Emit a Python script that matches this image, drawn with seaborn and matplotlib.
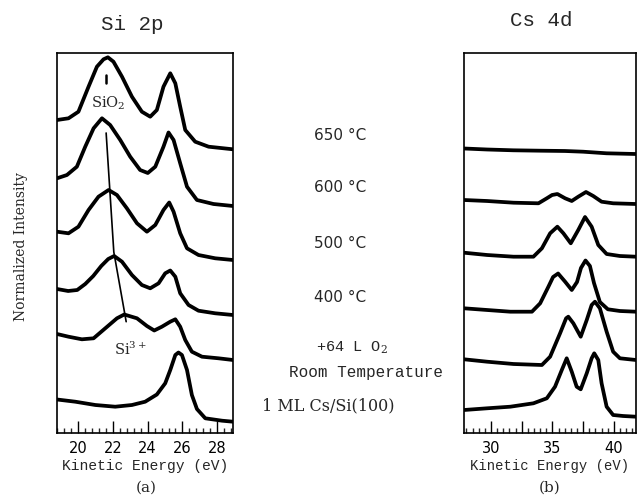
import numpy as np
import pandas as pd
import matplotlib
matplotlib.use("Agg")
import matplotlib.pyplot as plt
from matplotlib.ticker import MultipleLocator, FixedLocator
import seaborn as sns

# ---------------- data ----------------
# Si 2p panel: kinetic energy (eV) and normalized intensity (offset, arb. units)
si_labels = ["650 °C", "600 °C", "500 °C", "400 °C", "+64 L O2", "1 ML Cs/Si(100)"]

si_650_x = [18.80, 19.46, 20.03, 20.61, 21.09, 21.47, 21.72, 22.04, 22.53, 23.10, 23.67,
            24.15, 24.53, 24.91, 25.30, 25.59, 25.87, 26.16, 26.73, 27.50, 28.90]
si_650_y = [313, 314.7, 321.3, 346.3, 366.3, 373.7, 375.7, 371.3, 356.3, 336.3, 321.3,
            316.3, 323, 346.3, 359.7, 349.7, 326.3, 303, 291.3, 286.3, 283.7]

si_600_x = [18.80, 19.37, 19.94, 20.42, 20.90, 21.38, 21.85, 22.43, 23.00, 23.57, 24.01,
            24.44, 24.91, 25.20, 25.49, 25.87, 26.26, 26.83, 27.78, 28.90]
si_600_y = [254.7, 258, 266.3, 286.3, 304.7, 314.7, 308, 293, 276.3, 263, 260,
            266.3, 286.3, 300.5, 293, 269.7, 246.3, 233, 229, 227]

si_500_x = [18.80, 19.46, 20.03, 20.61, 21.18, 21.76, 22.24, 22.81, 23.39, 23.96, 24.44,
            24.91, 25.24, 25.49, 25.87, 26.26, 26.92, 27.88, 28.90]
si_500_y = [201.3, 199.7, 206.3, 223, 236.3, 243, 238, 224.7, 209.7, 201.3, 208,
            223, 230.5, 221.3, 199.7, 184.7, 178, 174.7, 173]

si_400_x = [18.80, 19.44, 19.96, 20.42, 20.88, 21.34, 21.74, 22.08, 22.53, 23.10, 23.67,
            24.15, 24.63, 25.01, 25.30, 25.59, 25.87, 26.35, 26.92, 27.88, 28.90]
si_400_y = [144, 142, 143, 149, 157, 167, 174, 177, 171.3, 158, 148,
            144.7, 149.7, 159.7, 162.5, 156.3, 139.7, 128, 122.3, 119.7, 118]

si_o2_x = [18.80, 19.46, 20.23, 20.90, 21.57, 22.24, 22.66, 23.39, 23.96, 24.38, 24.82,
           25.30, 25.59, 25.87, 26.16, 26.54, 27.12, 28.07, 28.90]
si_o2_y = [99, 96.3, 93.7, 94.7, 104.7, 114.7, 118.5, 114.7, 107, 102.5, 106.3,
           111.3, 113.7, 106.3, 93, 81.3, 76.3, 74.7, 73]

si_cs_x = [18.80, 19.85, 21.00, 22.14, 23.10, 23.86, 24.53, 25.01, 25.30, 25.59, 25.77,
           25.97, 26.26, 26.54, 26.83, 27.31, 28.27, 28.90]
si_cs_y = [33.5, 31.3, 28, 26.3, 28, 31.3, 38.5, 49.7, 63, 78, 80.5,
           78, 63, 38, 24, 14.7, 12.3, 11.3]

# Cs 4d panel
cs_650_x = [27.8, 29.68, 31.81, 34.00, 36.03, 37.49, 39.41, 41.8]
cs_650_y = [284.5, 283.5, 282.7, 282.3, 282, 281.3, 279.7, 279]

cs_600_x = [27.8, 29.68, 31.83, 33.86, 34.54, 34.97, 35.40, 36.03, 36.57, 37.10, 37.73,
            38.32, 39.00, 39.94, 41.8]
cs_600_y = [233, 232, 230.3, 229.7, 234.7, 238, 239, 234.7, 232, 236.3, 241,
            237, 231.3, 229.7, 229]

cs_500_x = [27.8, 29.68, 31.83, 33.45, 34.14, 34.81, 35.40, 35.89, 36.49, 37.10, 37.65,
            38.19, 38.73, 39.41, 40.49, 41.8]
cs_500_y = [180.3, 178, 176.3, 176.3, 184.7, 199.7, 206.3, 199.7, 189.7, 203, 216,
            206.3, 188, 179, 177, 176.3]

cs_400_x = [27.8, 29.68, 31.57, 33.33, 34.00, 34.67, 35.05, 35.46, 36.03, 36.57, 37.00,
            37.32, 37.69, 38.05, 38.38, 38.86, 39.51, 40.49, 41.8]
cs_400_y = [124.7, 123, 121.3, 121.3, 129.7, 146.3, 156, 159.5, 151.3, 143, 151,
            165, 172.5, 167, 150, 131, 123.7, 122, 121.3]

cs_o2_x = [27.8, 29.68, 31.83, 34.14, 34.81, 35.62, 36.11, 36.29, 36.70, 37.30, 37.79,
           38.19, 38.46, 38.86, 39.41, 39.94, 40.49, 41.8]
cs_o2_y = [73.7, 71.3, 69, 68, 76.3, 99.7, 114.7, 116.3, 109.7, 96.3, 113,
           128, 131.3, 124.7, 101.3, 81.3, 74.7, 73]

cs_cs_x = [27.8, 29.68, 31.57, 33.45, 34.54, 35.21, 35.76, 36.16, 36.57, 36.97, 37.30,
           37.79, 38.19, 38.40, 38.73, 39.00, 39.41, 39.94, 40.75, 41.8]
cs_cs_y = [23, 24.7, 26.3, 29.7, 34.7, 46.3, 63, 74.7, 61.3, 46.3, 43.7,
           59.7, 74.7, 79.7, 73, 49.7, 26.3, 18, 17, 16.3]

# annotation guide lines (Si 2p panel)
sio2_tick_x = [21.61, 21.61]
sio2_tick_y = [358, 349.7]
shift_line_x = [21.62, 22.06, 22.77]
shift_line_y = [300, 181, 111.3]

si_ticks = [20, 22, 24, 26, 28]
cs_ticks = [30, 32.5, 35, 37.5, 40]
cs_ticklabels = ["30", "", "35", "", "40"]

# ---------------- build long-form tables ----------------
def long_table(pairs, names):
    rows = []
    for (xs, ys), n in zip(pairs, names):
        for i, (a, b) in enumerate(zip(xs, ys)):
            rows.append({"energy": a, "intensity": b, "spectrum": n, "order": i})
    return pd.DataFrame(rows)

si_df = long_table([(si_650_x, si_650_y), (si_600_x, si_600_y), (si_500_x, si_500_y),
                    (si_400_x, si_400_y), (si_o2_x, si_o2_y), (si_cs_x, si_cs_y)], si_labels)
cs_df = long_table([(cs_650_x, cs_650_y), (cs_600_x, cs_600_y), (cs_500_x, cs_500_y),
                    (cs_400_x, cs_400_y), (cs_o2_x, cs_o2_y), (cs_cs_x, cs_cs_y)], si_labels)

# ---------------- figure ----------------
sns.set_style("ticks")
plt.rcParams["font.family"] = ["DejaVu Sans"]
plt.rcParams["mathtext.fontset"] = "dejavuserif"

W, H = 637, 497
fig = plt.figure(figsize=(W / 100, H / 100), dpi=100)

def fx(px):
    return px / W

def fy(py):
    return 1 - py / H

ax1 = fig.add_axes([fx(57), fy(433), (233 - 57) / W, (433 - 53) / H])
ax2 = fig.add_axes([fx(464), fy(433), (636 - 464) / W, (433 - 53) / H])

LW = 2.7
sns.lineplot(data=si_df, x="energy", y="intensity", units="spectrum", estimator=None,
             sort=False, color="black", lw=LW, ax=ax1, legend=False)
sns.lineplot(data=cs_df, x="energy", y="intensity", units="spectrum", estimator=None,
             sort=False, color="black", lw=LW, ax=ax2, legend=False)
for ln in ax1.lines + ax2.lines:
    ln.set_solid_joinstyle("round")
    ln.set_solid_capstyle("round")

ax1.plot(sio2_tick_x, sio2_tick_y, color="black", lw=1.8)
ax1.plot(shift_line_x, shift_line_y, color="black", lw=1.2)
ax1.text(21.74, 330, "SiO$_2$", ha="center", va="center", fontsize=10.5,
         family="DejaVu Serif")
ax1.text(23.01, 84, "Si$^{3+}$", ha="center", va="center", fontsize=10.5,
         family="DejaVu Serif")

ax1.set_xlim(18.8, 28.9)
ax2.set_xlim(27.8, 41.8)
for ax in (ax1, ax2):
    ax.set_ylim(0, 380)
    ax.set_yticks([])
    ax.set_ylabel("")
    ax.set_xlabel("")
    for s in ax.spines.values():
        s.set_visible(True)
        s.set_linewidth(1.2)
        s.set_color("black")
    ax.tick_params(axis="x", which="major", direction="in", length=9, width=1.0,
                   labelsize=10.5, pad=6, colors="black")
    ax.tick_params(axis="x", which="minor", direction="in", length=3.5, width=1.0)

ax1.xaxis.set_major_locator(FixedLocator(si_ticks))
ax1.set_xticklabels([str(t) for t in si_ticks])
ax1.xaxis.set_minor_locator(MultipleLocator(0.4))
ax2.xaxis.set_major_locator(FixedLocator(cs_ticks))
ax2.set_xticklabels(cs_ticklabels)
ax2.xaxis.set_minor_locator(MultipleLocator(0.5))

# axis labels and titles
mono = "Liberation Mono"
fig.text(fx(132), fy(25), "Si 2p", ha="center", va="center", fontsize=15, family=mono)
fig.text(fx(541), fy(21), "Cs 4d", ha="center", va="center", fontsize=15, family=mono)
fig.text(fx(145), fy(466), "Kinetic Energy (eV)", ha="center", va="center",
         fontsize=10.5, family=mono)
fig.text(fx(550), fy(466), "Kinetic Energy (eV)", ha="center", va="center",
         fontsize=10, family=mono)
fig.text(fx(146), fy(488), "(a)", ha="center", va="center", fontsize=11, family="DejaVu Serif")
fig.text(fx(550), fy(488), "(b)", ha="center", va="center", fontsize=11, family="DejaVu Serif")
fig.text(fx(21), fy(247), "Normalized Intensity", ha="center", va="center", rotation=90,
         fontsize=10, family="DejaVu Serif")

# condition labels between the panels
fig.text(fx(340), fy(135), "650 °C", ha="center", va="center", fontsize=11)
fig.text(fx(340), fy(188), "600 °C", ha="center", va="center", fontsize=11)
fig.text(fx(340), fy(243), "500 °C", ha="center", va="center", fontsize=11)
fig.text(fx(340), fy(297), "400 °C", ha="center", va="center", fontsize=11)
fig.text(fx(352), fy(348), "+64 L O$_2$", ha="center", va="center", fontsize=11, family=mono)
fig.text(fx(366), fy(373), "Room Temperature", ha="center", va="center", fontsize=11.5,
         family=mono)
fig.text(fx(328), fy(406), "1 ML Cs/Si(100)", ha="center", va="center", fontsize=11.5,
         family="DejaVu Serif")

fig.savefig("out.png", dpi=100)
